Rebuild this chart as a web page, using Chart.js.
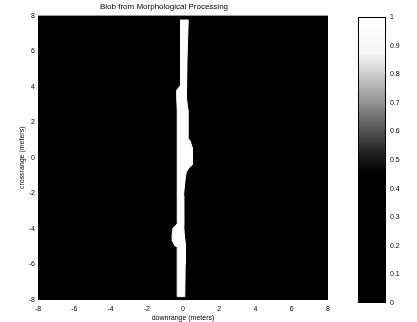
<!DOCTYPE html>
<html><head><meta charset="utf-8">
<script src="https://cdn.jsdelivr.net/npm/chart.js@4"></script>
<style>
html,body{margin:0;padding:0;background:#fff;}
#wrap{position:relative;width:417px;height:322px;overflow:hidden;}
#main{position:absolute;left:0;top:0;}
#cbar{position:absolute;left:345px;top:0;}
</style></head>
<body><div id="wrap"><canvas id="main" width="345" height="322"></canvas><canvas id="cbar" width="72" height="322"></canvas></div>
<script>
// Blob outline (downrange x, crossrange y), in meters
const blobX = [-0.15, 0.29, 0.25, 0.22, 0.18, 0.20, 0.27, 0.27, 0.40, 0.50, 0.52, 0.50, 0.34, 0.18, 0.12, 0.03, 0.04, 0.08, 0.14, 0.12, 0.10,
               -0.30, -0.32, -0.45, -0.57, -0.60, -0.55, -0.40, -0.31, -0.30, -0.32, -0.32, -0.33, -0.35, -0.35, -0.12, -0.12, -0.15];
const blobY = [7.75, 7.75, 6.5, 5.5, 4.1, 3.4, 2.7, 1.1, 0.95, 0.6, 0.0, -0.4, -0.56, -0.8, -1.2, -2.1, -3.8, -4.4, -4.9, -6.0, -7.81,
               -7.81, -5.0, -4.95, -4.7, -4.3, -3.95, -3.8, -3.7, -2.1, -0.8, 0.5, 2.7, 3.4, 3.8, 4.1, 6.0, 7.75];
const axisTicks = [-8, -6, -4, -2, 0, 2, 4, 6, 8];
const cbarTicks = [0, 0.1, 0.2, 0.3, 0.4, 0.5, 0.6, 0.7, 0.8, 0.9, 1];
// grayscale colormap as seen on the colorbar (value, colour)
const cbarStops = [[0, '#000'], [0.45, '#000'], [0.52, '#1e1e1e'], [0.6, '#505050'], [0.7, '#929292'], [0.8, '#cccccc'], [0.87, '#f6f6f6'], [1, '#fff']];

const FONT = '"Liberation Sans", Arial, Helvetica, sans-serif';

const blackBg = {
  id: 'blackBg',
  beforeDatasetsDraw(chart) {
    const a = chart.chartArea, c = chart.ctx;
    c.save(); c.fillStyle = '#000'; c.fillRect(a.left, a.top, a.right - a.left, a.bottom - a.top); c.restore();
  }
};
const frame = {
  id: 'frame',
  afterDraw(chart) {
    const a = chart.chartArea, c = chart.ctx;
    c.save(); c.strokeStyle = '#000'; c.lineWidth = 1;
    c.strokeRect(a.left + 0.5, a.top + 0.5, a.right - a.left - 1, a.bottom - a.top - 1); c.restore();
  }
};

function fixedTicks(list) {
  return function (scale) { scale.ticks = list.map(v => ({ value: v })); };
}

new Chart(document.getElementById('main'), {
  type: 'scatter',
  data: {
    datasets: [{
      data: blobX.map((x, i) => ({ x: x, y: blobY[i] })),
      showLine: true, fill: 'shape', tension: 0,
      backgroundColor: '#fff', borderColor: '#fff', borderWidth: 1, pointRadius: 0
    }]
  },
  options: {
    responsive: false, animation: false, devicePixelRatio: 1,
    layout: { padding: { left: 0, right: 17, top: 0, bottom: 0 } },
    plugins: {
      legend: { display: false }, tooltip: { enabled: false },
      title: { display: true, text: 'Blob from Morphological Processing', color: '#000',
               font: { family: FONT, size: 8, weight: 'normal' }, padding: { top: 2, bottom: 4 } }
    },
    scales: {
      x: {
        type: 'linear', min: -8, max: 8,
        afterBuildTicks: fixedTicks(axisTicks),
        ticks: { color: '#000', font: { family: FONT, size: 7 }, padding: 5, maxRotation: 0 },
        grid: { display: false, drawTicks: false }, border: { display: false },
        title: { display: true, text: 'downrange (meters)', color: '#000', font: { family: FONT, size: 7 }, padding: { top: 0, bottom: 0 } },
        afterFit(s) { s.height = 22; }
      },
      y: {
        type: 'linear', min: -8, max: 8,
        afterBuildTicks: fixedTicks(axisTicks),
        ticks: { color: '#000', font: { family: FONT, size: 7 }, padding: 3 },
        grid: { display: false, drawTicks: false }, border: { display: false },
        title: { display: true, text: 'crossrange (meters)', color: '#000', font: { family: FONT, size: 7 }, padding: { top: 18, bottom: 0 } },
        afterFit(s) { s.width = 38; }
      }
    }
  },
  plugins: [blackBg]
});

new Chart(document.getElementById('cbar'), {
  type: 'bar',
  data: {
    labels: [''],
    datasets: [{
      data: [[0, 1]],
      barPercentage: 1, categoryPercentage: 1, borderWidth: 0, borderSkipped: false,
      backgroundColor(ctx) {
        const chart = ctx.chart, y = chart.scales.y;
        if (!chart.chartArea || !y) return '#000';
        const g = chart.ctx.createLinearGradient(0, y.getPixelForValue(0), 0, y.getPixelForValue(1));
        cbarStops.forEach(s => g.addColorStop(s[0], s[1]));
        return g;
      }
    }]
  },
  options: {
    responsive: false, animation: false, devicePixelRatio: 1,
    layout: { padding: { left: 13, right: 0, top: 17, bottom: 19 } },
    plugins: { legend: { display: false }, tooltip: { enabled: false } },
    scales: {
      x: { display: false },
      y: {
        position: 'right', min: 0, max: 1,
        afterBuildTicks: fixedTicks(cbarTicks),
        ticks: { color: '#000', font: { family: FONT, size: 7 }, padding: 4, callback: v => String(Math.round(v * 10) / 10) },
        grid: { display: false, drawTicks: false }, border: { display: false },
        afterFit(s) { s.width = 31; }
      }
    }
  },
  plugins: [frame]
});
</script>
</body></html>
